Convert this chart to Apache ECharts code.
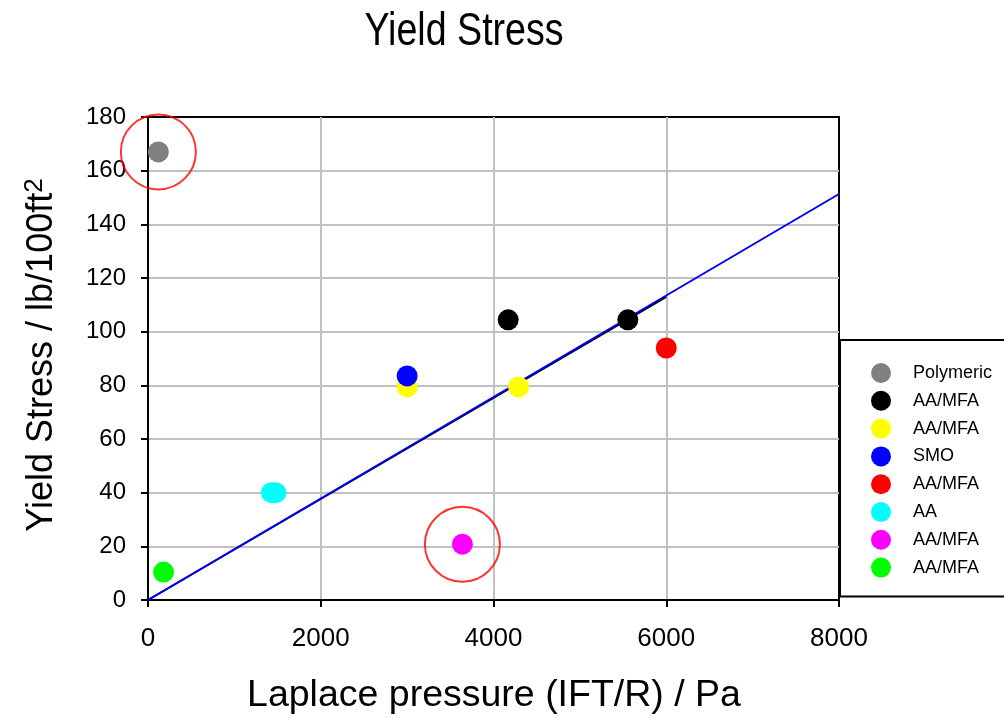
<!DOCTYPE html>
<html>
<head>
<meta charset="utf-8">
<script src="https://cdn.jsdelivr.net/npm/echarts@6/dist/echarts.min.js"></script>
<style>
  html, body { margin: 0; padding: 0; background: #fff; }
  #chart { width: 1004px; height: 718px; }
</style>
</head>
<body>
<div id="chart"></div>
<script>
// Formulation groups and their measured points [Laplace pressure (Pa), yield stress]
const seriesNames = ['Polymeric', 'AA/MFA', 'AA/MFA', 'SMO', 'AA/MFA', 'AA', 'AA/MFA', 'AA/MFA'];
const seriesColors = ['#808080', '#000000', '#ffff00', '#0000ff', '#ff0000', '#00ffff', '#ff00ff', '#00ff00'];
const seriesPoints = [
  [[120, 167]],
  [[4170, 104.4], [5555, 104.4]],
  [[3000, 79.4], [4290, 79.4]],
  [[3000, 83.5]],
  [[6000, 93.9]],
  [[1430, 40], [1480, 40]],
  [[3640, 20.8]],
  [[180, 10.4]]
];
// Points singled out with a ring
const outliers = [[120, 167], [3640, 20.8]];
// Trend lines through the origin
const trendBlack = [[0, 0], [6000, 113]];
const trendBlue = [[0, 0], [8000, 151.3]];
// Axis ranges
const xTicks = { min: 0, max: 8000, interval: 2000 };
const yTicks = { min: 0, max: 180, interval: 20 };

const chart = echarts.init(document.getElementById('chart'), null, { renderer: 'canvas' });

// unique keys so repeated group names each get their own legend entry
const keys = seriesNames.map((n, i) => n + '#' + i);

const series = [];
series.push({
  type: 'line', data: trendBlack, symbol: 'none', silent: true,
  lineStyle: { color: '#000', width: 2 }, z: 2
});
series.push({
  type: 'line', data: trendBlue, symbol: 'none', silent: true,
  lineStyle: { color: '#0000ff', width: 2 }, z: 3
});
keys.forEach((k, i) => {
  series.push({
    name: k, type: 'scatter', data: seriesPoints[i],
    symbol: 'circle', symbolSize: 21,
    itemStyle: { color: seriesColors[i], opacity: 1 }, z: 4
  });
});
series.push({
  type: 'scatter', data: outliers, symbol: 'circle', symbolSize: 75,
  silent: true, clip: false,
  itemStyle: { color: 'rgba(0,0,0,0)', borderColor: '#ff0000', borderWidth: 2 }, z: 5
});

const FONT = '"Liberation Sans", Arial, sans-serif';

chart.setOption({
  animation: false,
  backgroundColor: '#ffffff',
  grid: {
    left: 148, right: 165, top: 117, bottom: 118,
    show: true, borderColor: '#000', borderWidth: 2, backgroundColor: '#fff'
  },
  xAxis: {
    type: 'value', min: xTicks.min, max: xTicks.max, interval: xTicks.interval,
    axisLine: { show: true, onZero: false, lineStyle: { color: '#000', width: 2 } },
    axisTick: { show: true, length: 7, lineStyle: { color: '#000', width: 2 } },
    axisLabel: { color: '#000', fontSize: 26, fontFamily: FONT, margin: 26, formatter: v => String(v) },
    splitLine: { show: true, showMinLine: false, showMaxLine: false, lineStyle: { color: '#c0c0c0', width: 2 } }
  },
  yAxis: {
    type: 'value', min: yTicks.min, max: yTicks.max, interval: yTicks.interval,
    axisLine: { show: true, onZero: false, lineStyle: { color: '#000', width: 2 } },
    axisTick: { show: true, length: 7, lineStyle: { color: '#000', width: 2 } },
    axisLabel: { color: '#000', fontSize: 24, fontFamily: FONT, margin: 22, formatter: v => String(v) },
    splitLine: { show: true, showMinLine: false, showMaxLine: false, lineStyle: { color: '#c0c0c0', width: 2 } }
  },
  legend: {
    data: keys,
    formatter: name => name.split('#')[0],
    orient: 'vertical', left: 840, top: 340,
    padding: [23, 60, 19, 31],
    itemWidth: 54, itemHeight: 20, itemGap: 7.8,
    icon: 'circle',
    borderColor: '#000', borderWidth: 2, backgroundColor: '#fff',
    selectedMode: false,
    textStyle: { color: '#000', fontSize: 18, fontFamily: FONT, lineHeight: 20 }
  },
  graphic: [
    {
      type: 'text', x: 464, y: 32, scaleX: 0.8, z: 10,
      style: {
        text: 'Yield Stress', fill: '#000',
        font: '47px ' + FONT, align: 'center', verticalAlign: 'middle'
      }
    },
    {
      type: 'text', x: 494, y: 696, z: 10,
      style: {
        text: 'Laplace pressure (IFT/R) / Pa', fill: '#000',
        font: '37.5px ' + FONT, align: 'center', verticalAlign: 'middle'
      }
    },
    {
      type: 'text', x: 42, y: 355, rotation: Math.PI / 2, z: 10,
      style: {
        text: '{m|Yield Stress / lb/100ft}{s|2}', align: 'center', verticalAlign: 'middle',
        rich: {
          m: { fontSize: 36, fontFamily: FONT, fill: '#000', lineHeight: 40 },
          s: { fontSize: 26, fontFamily: FONT, fill: '#000', verticalAlign: 'top' }
        }
      }
    }
  ],
  series: series
});
</script>
</body>
</html>
